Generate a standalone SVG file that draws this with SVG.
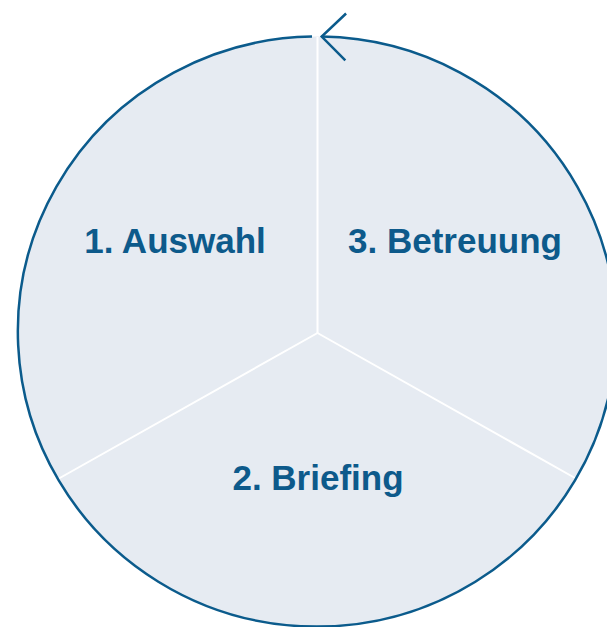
<svg xmlns="http://www.w3.org/2000/svg" width="607" height="627" viewBox="0 0 607 627">
  <style>
    .lbl { font-family: "Liberation Sans", Arial, sans-serif; font-weight: bold; font-size: 35px; fill: #0d5a8b; text-anchor: middle; }
    .spoke { stroke: #ffffff; stroke-width: 2; fill: none; }
    .ring { stroke: #0b5b8c; stroke-width: 2.5; fill: none; }
  </style>
  <defs>
    <marker id="chev" markerUnits="userSpaceOnUse" viewBox="-28 -28 32 56" markerWidth="32" markerHeight="56" refX="0" refY="0" orient="auto" overflow="visible">
      <path d="M -24 -23.5 L 0 0 L -24 23.5" fill="none" stroke="#0b5b8c" stroke-width="2.5"/>
    </marker>
  </defs>
  <rect width="607" height="627" fill="#ffffff"/>
  <g id="cycle-bg">
    <ellipse cx="317.5" cy="331.5" rx="299" ry="295" fill="#e6ebf2"/>
  </g>
  <g id="connectors">
    <line class="spoke" x1="317.5" y1="37" x2="317.5" y2="333"/>
    <line class="spoke" x1="317.5" y1="333" x2="58" y2="479"/>
    <line class="spoke" x1="317.5" y1="333" x2="575" y2="478"/>
    <path class="ring" d="M 312 36.6 A 299 295 0 1 0 321.7 36.6" marker-end="url(#chev)"/>
  </g>
  <g id="node-auswahl">
    <text class="lbl" x="175" y="253">1. Auswahl</text>
  </g>
  <g id="node-betreuung">
    <text class="lbl" x="455" y="253">3. Betreuung</text>
  </g>
  <g id="node-briefing">
    <text class="lbl" x="318" y="490">2. Briefing</text>
  </g>
</svg>
